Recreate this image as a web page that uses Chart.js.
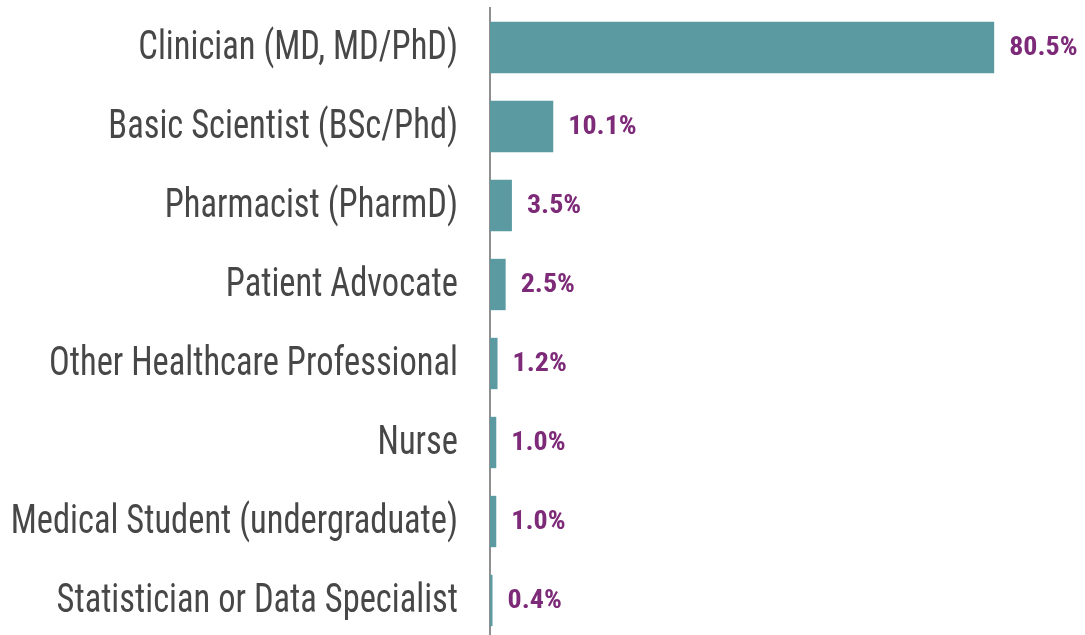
<!DOCTYPE html>
<html><head><meta charset="utf-8">
<script src="https://cdn.jsdelivr.net/npm/chart.js@4/dist/chart.umd.min.js"></script>
<style>html,body{margin:0;padding:0;background:#fff;overflow:hidden;}#wrap{width:1085px;height:640px;}</style>
</head><body><div id="wrap"><canvas id="c" width="1085" height="640"></canvas></div>
<script>
const categories = ["Clinician (MD, MD/PhD)","Basic Scientist (BSc/Phd)","Pharmacist (PharmD)","Patient Advocate","Other Healthcare Professional","Nurse","Medical Student (undergraduate)","Statistician or Data Specialist"];
const values = [80.5, 10.1, 3.5, 2.5, 1.2, 1.0, 1.0, 0.4];
const valueLabels = ["80.5%","10.1%","3.5%","2.5%","1.2%","1.0%","1.0%","0.4%"];
const FONT = '"Liberation Sans Narrow","Arial Narrow","Roboto Condensed","Liberation Sans",sans-serif';
const textPlugin = {
  id:'texts',
  afterDraw(chart){
    const ctx = chart.ctx; const meta = chart.getDatasetMeta(0);
    const ys = chart.scales.y;
    ctx.save();
    ctx.font = '34.5px ' + FONT;
    ctx.fillStyle = '#474747';
    ctx.textBaseline = 'middle'; ctx.textAlign = 'right';
    categories.forEach((lab,i)=>{
      const y = ys.getPixelForTick(i);
      ctx.save(); ctx.translate(ys.right - 32, y + 1); ctx.scale(1, 1.2);
      ctx.fillText(lab, 0, 0); ctx.restore();
    });
    ctx.font = 'bold 28px ' + FONT;
    ctx.fillStyle = '#7d2a78';
    ctx.textAlign = 'left';
    meta.data.forEach((bar,i)=>{
      ctx.save(); ctx.translate(bar.x + 15, bar.y + 1); ctx.scale(1, 0.92);
      ctx.fillText(valueLabels[i], 0, 0); ctx.restore();
    });
    ctx.restore();
  }
};
new Chart(document.getElementById('c'), {
  type:'bar',
  data:{labels:categories, datasets:[{data:values, backgroundColor:'#5a9aa0', barPercentage:0.65, categoryPercentage:1.0}]},
  options:{
    indexAxis:'y', responsive:false, animation:false,
    layout:{padding:{top:8, right:0, bottom:0, left:0}},
    plugins:{legend:{display:false}, tooltip:{enabled:false}},
    scales:{
      x:{min:0, max:95, display:false, grid:{display:false}},
      y:{
        grid:{display:false, drawTicks:false},
        border:{display:true, color:'#8f8f8f', width:2},
        ticks:{display:false},
        afterFit(s){ s.width = 490; s.paddingTop = 0; s.paddingBottom = 0; }
      }
    }
  },
  plugins:[textPlugin]
});
</script></body></html>
